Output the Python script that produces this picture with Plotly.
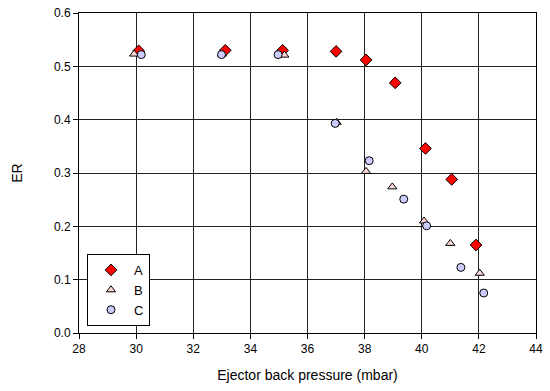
import plotly.graph_objects as go

a_x = [30.09, 33.12, 35.13, 37.0, 38.05, 39.07, 40.13, 41.05, 41.9]
a_y = [0.529, 0.530, 0.530, 0.528, 0.512, 0.469, 0.346, 0.288, 0.165]
b_x = [29.93, 33.0, 35.19, 37.02, 38.05, 38.97, 40.08, 41.0, 42.03]
b_y = [0.523, 0.523, 0.521, 0.395, 0.303, 0.274, 0.210, 0.168, 0.112]
c_x = [30.18, 32.99, 34.97, 36.97, 38.16, 39.37, 40.17, 41.37, 42.17]
c_y = [0.522, 0.522, 0.522, 0.393, 0.323, 0.251, 0.201, 0.123, 0.075]
x_ticks = [28, 30, 32, 34, 36, 38, 40, 42, 44]
y_ticks = [0.0, 0.1, 0.2, 0.3, 0.4, 0.5, 0.6]

font = "Liberation Sans, Arial, sans-serif"
fig = go.Figure()
fig.add_trace(go.Scatter(x=a_x, y=a_y, mode="markers", name="A",
                         marker=dict(symbol="diamond", size=9, color="#ff0000",
                                     line=dict(color="black", width=1))))
fig.add_trace(go.Scatter(x=b_x, y=b_y, mode="markers", name="B",
                         marker=dict(symbol="triangle-up", size=8, color="#ffd6d6",
                                     line=dict(color="black", width=1))))
fig.add_trace(go.Scatter(x=c_x, y=c_y, mode="markers", name="C",
                         marker=dict(symbol="circle", size=8, color="#ccccff",
                                     line=dict(color="black", width=1))))

axis_common = dict(showgrid=True, gridcolor="#222222", gridwidth=1,
                   showline=True, linecolor="black", linewidth=1, mirror=True,
                   ticks="outside", ticklen=5, tickcolor="black", automargin=False,
                   zeroline=False, tickfont=dict(size=12, color="black", family=font))
fig.update_xaxes(range=[28, 44], tickvals=x_ticks,
                 title=dict(text="Ejector back pressure (mbar)", font=dict(size=14, family=font, color="black"), standoff=14),
                 **axis_common)
fig.update_yaxes(range=[0, 0.6], tickvals=y_ticks, tickformat=".1f",
                 title=dict(text="ER", font=dict(size=14, family=font, color="black"), standoff=28),
                 **axis_common)
fig.update_layout(
    width=550, height=391,
    margin=dict(l=79, r=14, t=13, b=58),
    plot_bgcolor="white", paper_bgcolor="white",
    font=dict(family=font, color="black"),
    legend=dict(x=0.0175, y=0.247, xanchor="left", yanchor="top",
                bgcolor="white", bordercolor="black", borderwidth=1,
                font=dict(size=13, family=font, color="black"),
                itemwidth=36, tracegroupgap=0),
)
fig.write_html("out.html", config={"displayModeBar": False},
               post_script="document.body.style.margin='0';")
